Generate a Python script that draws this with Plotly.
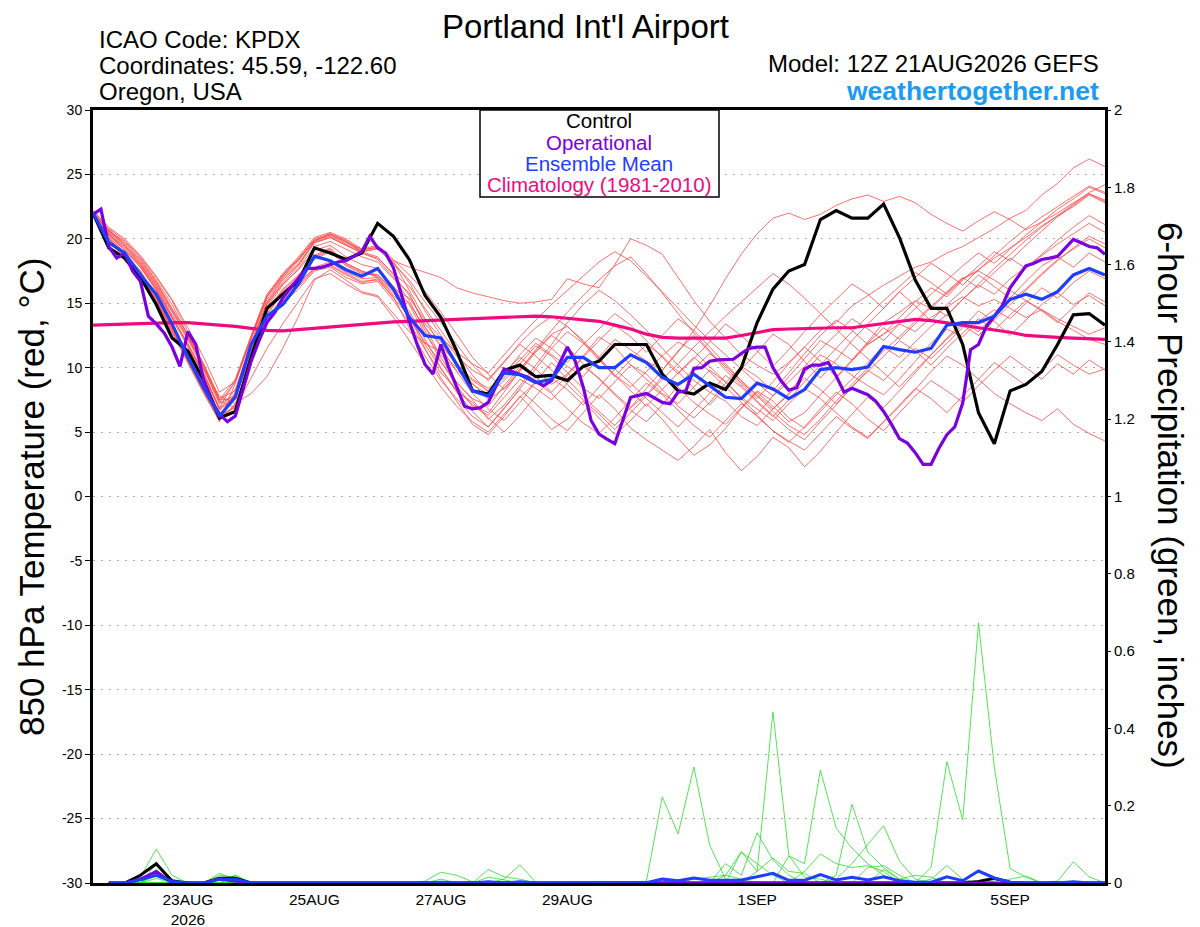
import pandas as pd
import plotly.graph_objects as go

# ---- data -------------------------------------------------------------
start = "2026-08-21 12:00"
times = pd.date_range(start, periods=65, freq="6h")      # GEFS members
op_times = pd.date_range(start, periods=129, freq="3h")  # operational run

tick_dates = ["2026-08-23", "2026-08-25", "2026-08-27", "2026-08-29",
              "2026-09-01", "2026-09-03", "2026-09-05"]
tick_labels = ["23AUG<br>2026", "25AUG", "27AUG", "29AUG", "1SEP", "3SEP", "5SEP"]
temp_ticks = [-30, -25, -20, -15, -10, -5, 0, 5, 10, 15, 20, 25, 30]
temp_labels = ["-30", "-25", "-20", "-15", "-10", "-5", "0", "5", "10", "15", "20", "25", "30"]
precip_ticks = [0, 0.2, 0.4, 0.6, 0.8, 1, 1.2, 1.4, 1.6, 1.8, 2]
precip_labels = ["0", "0.2", "0.4", "0.6", "0.8", "1", "1.2", "1.4", "1.6", "1.8", "2"]

# 850 hPa temperature, deg C
control = [22.0, 19.3, 18.5, 17.0, 14.9, 12.3, 11.3, 9.0, 6.1, 6.6, 10.8, 14.6, 15.7,
           16.7, 19.3, 18.9, 18.4, 18.9, 21.2, 20.2, 18.4, 15.6, 13.9, 11.3, 8.2, 7.95,
           9.8, 10.2, 9.3, 9.4, 9.0, 10.1, 10.5, 11.8, 11.8, 11.8, 9.5, 8.2, 7.95, 8.8,
           8.3, 10.0, 13.5, 16.1, 17.5, 18.0, 21.5, 22.2, 21.6, 21.6, 22.7, 20.1, 16.8,
           14.6, 14.6, 11.8, 6.5, 4.1, 8.2, 8.7, 9.7, 11.8, 14.1, 14.2, 13.3]
ens_mean = [22.0, 19.7, 18.9, 17.2, 15.7, 13.4, 10.8, 8.45, 6.25, 7.7, 11.8, 14.0, 14.9,
            16.5, 18.65, 18.3, 17.6, 17.1, 17.7, 16.1, 13.9, 12.5, 12.3, 10.3, 8.2, 7.8,
            9.6, 9.45, 8.85, 9.1, 10.8, 10.8, 10.0, 10.0, 11.0, 10.4, 9.25, 8.7, 9.5, 8.6,
            7.7, 7.6, 8.8, 8.35, 7.6, 8.3, 9.85, 10.0, 9.85, 10.05, 11.65, 11.4, 11.2,
            11.5, 13.3, 13.5, 13.5, 14.0, 15.3, 15.7, 15.3, 15.9, 17.2, 17.7, 17.2]
climatology = [13.3, 13.35, 13.4, 13.45, 13.5, 13.5, 13.5, 13.4, 13.35, 13.2, 13.05, 12.9,
               12.85, 12.95, 13.05, 13.15, 13.3, 13.4, 13.5, 13.55, 13.6, 13.65, 13.7, 13.75,
               13.8, 13.85, 13.9, 13.95, 14.0, 13.95, 13.85, 13.75, 13.6, 13.3, 13.0, 12.6,
               12.35, 12.3, 12.3, 12.3, 12.3, 12.5, 12.75, 12.95, 13.0, 13.05, 13.05, 13.1,
               13.1, 13.25, 13.4, 13.6, 13.75, 13.65, 13.5, 13.3, 13.1, 12.95, 12.75, 12.5,
               12.4, 12.35, 12.3, 12.25, 12.2]
operational = [21.9, 22.3, 19.4, 18.5, 18.9, 17.5, 16.7, 14.0, 13.4, 12.7, 11.6, 10.1, 12.8,
               11.8, 9.0, 7.4, 6.4, 5.8, 6.25, 8.45, 10.5, 12.1, 13.5, 14.3, 15.4, 16.2, 17.0,
               17.7, 17.7, 17.8, 18.0, 18.2, 18.3, 18.65, 19.0, 20.2, 19.3, 18.9, 17.75, 15.7,
               13.6, 11.8, 10.25, 9.5, 11.8, 10.0, 8.45, 7.0, 6.8, 6.9, 7.3, 8.6, 9.9, 9.7, 9.5,
               9.25, 8.9, 8.6, 9.0, 10.3, 11.6, 10.5, 8.5, 5.9, 4.85, 4.45, 4.1, 5.9, 7.7, 7.85,
               8.0, 7.65, 7.3, 7.2, 8.1, 8.2, 9.95, 10.0, 10.5, 10.6, 10.65, 10.65, 11.1, 11.5,
               11.6, 11.6, 10.0, 9.0, 8.25, 8.45, 9.9, 10.2, 10.2, 10.4, 9.35, 8.1, 8.4, 8.15,
               7.9, 7.4, 6.6, 5.6, 4.5, 4.15, 3.4, 2.5, 2.5, 3.75, 4.8, 5.4, 7.25, 11.4, 11.8,
               13.2, 14.0, 14.8, 16.2, 17.1, 17.9, 18.1, 18.4, 18.5, 18.65, 19.3, 19.95, 19.7,
               19.4, 19.3, 18.8]

m01 = [21.8, 20.4, 19.2, 17.9, 16.1, 13.9, 11.9, 9.6, 6.9, 9.0, 12.4, 15.6, 17.2, 18.5, 20.0, 20.4, 19.9, 19.1, 19.4, 18.3,
       17.8, 17.4, 17.0, 16.2, 15.8, 15.5, 15.2, 15.0, 15.1, 15.3, 16.9, 16.5, 16.2, 18.0, 20.0, 19.5, 18.8, 17.0, 15.2, 13.6,
       12.3, 11.0, 10.2, 9.5, 10.4, 11.6, 12.9, 13.5, 14.8, 15.6, 16.4, 17.1, 17.8, 18.2, 18.9, 19.4, 20.1, 20.8, 21.6, 22.2,
       23.4, 24.3, 25.5, 26.2, 25.6]
m02 = [22.1, 19.9, 18.6, 17.2, 15.2, 13.0, 10.8, 8.4, 6.0, 7.0, 10.6, 13.8, 15.2, 16.3, 17.6, 17.9, 17.2, 16.6, 16.9, 15.4,
       14.0, 11.5, 9.2, 7.4, 5.6, 4.8, 6.2, 7.8, 6.5, 5.2, 6.0, 7.4, 6.1, 4.8, 5.9, 7.2, 6.0, 4.5, 3.2, 4.0,
       5.3, 6.8, 8.1, 7.0, 5.8, 6.5, 7.9, 9.2, 10.5, 11.8, 12.6, 13.4, 12.8, 13.9, 14.7, 15.5, 14.8, 15.3, 14.6, 13.9,
       14.5, 13.8, 13.2, 12.6, 13.1]
m03 = [22.0, 20.6, 19.6, 18.3, 16.6, 14.5, 12.6, 10.3, 7.6, 8.2, 11.8, 15.0, 16.8, 18.0, 19.8, 20.2, 19.6, 19.0, 18.6, 17.2,
       15.6, 13.4, 12.0, 10.1, 9.0, 8.2, 9.6, 10.8, 9.9, 8.7, 9.5, 10.9, 12.4, 11.6, 10.2, 9.1, 8.0, 7.2, 8.5, 9.8,
       8.9, 7.6, 6.4, 7.8, 9.3, 10.7, 12.1, 11.4, 10.6, 12.0, 13.5, 14.3, 15.2, 14.6, 15.8, 16.9, 17.6, 18.5, 19.3, 20.1,
       21.0, 21.8, 22.5, 23.4, 22.8]
m04 = [21.9, 20.1, 18.9, 17.4, 15.5, 13.2, 10.4, 8.0, 5.9, 7.8, 11.2, 14.4, 16.0, 17.1, 18.6, 19.2, 18.0, 17.4, 17.1, 15.9,
       13.8, 12.0, 10.4, 8.9, 7.5, 6.0, 7.1, 8.6, 10.2, 11.8, 13.5, 14.9, 16.0, 15.2, 14.1, 12.9, 11.5, 10.2, 9.0, 8.1,
       7.4, 6.2, 5.5, 6.8, 8.0, 9.6, 11.0, 10.3, 9.4, 8.6, 7.9, 9.1, 10.5, 11.9, 13.0, 12.4, 13.6, 14.5, 13.8, 15.0,
       16.2, 15.4, 16.6, 17.5, 16.9]
m05 = [22.2, 20.8, 19.9, 18.6, 17.0, 15.2, 12.8, 9.8, 7.8, 7.2, 8.0, 9.3, 11.5, 14.0, 16.8, 17.6, 16.8, 15.9, 15.6, 14.2,
       12.8, 11.9, 11.2, 10.0, 8.8, 7.5, 8.4, 9.9, 11.3, 12.6, 13.2, 12.1, 10.8, 9.4, 8.5, 9.7, 10.9, 12.0, 11.3, 10.1,
       8.9, 7.7, 6.8, 5.9, 7.2, 8.4, 7.6, 6.5, 5.4, 4.6, 5.8, 7.0, 8.3, 9.7, 10.9, 10.2, 9.1, 8.0, 7.2, 6.5,
       5.9, 6.8, 5.6, 4.9, 4.3]
m06 = [21.7, 20.3, 19.4, 18.0, 16.3, 14.1, 12.2, 9.9, 7.2, 7.9, 11.6, 14.9, 16.5, 17.6, 19.1, 19.5, 18.6, 18.0, 17.7, 16.3,
       15.0, 13.1, 11.7, 10.3, 9.1, 8.4, 9.2, 10.6, 11.9, 11.0, 10.1, 9.3, 10.8, 12.2, 11.4, 10.5, 9.8, 11.2, 12.9, 14.8,
       16.9, 18.8, 20.4, 21.6, 22.0, 21.5, 21.9, 22.6, 23.1, 23.4, 22.9, 23.3, 22.8, 21.9, 21.2, 20.6, 21.4, 22.1, 21.5, 20.7,
       21.3, 22.0, 22.8, 23.5, 22.9]
m07 = [22.0, 20.0, 18.7, 17.3, 15.3, 12.9, 10.6, 8.2, 6.1, 7.1, 10.8, 13.9, 15.4, 16.5, 17.8, 18.2, 17.4, 16.9, 17.0, 15.6,
       14.4, 12.2, 10.0, 8.1, 6.6, 5.4, 6.9, 8.3, 7.2, 6.0, 5.1, 6.5, 7.9, 6.8, 5.3, 4.4, 3.6, 2.8, 3.9, 5.2,
       3.4, 2.0, 3.1, 4.6, 3.8, 2.3, 3.5, 5.0, 6.4, 7.7, 6.9, 8.2, 9.6, 11.0, 12.3, 13.5, 12.8, 14.0, 15.2, 16.1,
       17.3, 18.4, 19.2, 20.0, 19.3]
m08 = [22.1, 20.5, 19.5, 18.1, 16.4, 14.3, 12.3, 10.0, 7.3, 8.9, 12.2, 15.3, 17.0, 18.3, 19.9, 20.3, 19.8, 19.0, 19.2, 18.1,
       16.8, 15.1, 13.5, 11.8, 10.2, 9.0, 10.4, 11.9, 13.1, 14.0, 13.2, 12.0, 10.7, 9.3, 10.6, 11.8, 10.9, 9.7, 8.4, 7.1,
       8.5, 9.9, 11.2, 12.6, 11.8, 10.5, 9.2, 10.6, 12.1, 13.4, 14.6, 15.9, 14.8, 13.6, 14.9, 16.0, 17.2, 16.3, 15.4, 16.7,
       17.9, 18.6, 17.8, 18.9, 18.2]
m09 = [21.8, 20.0, 18.8, 17.5, 15.6, 13.3, 10.7, 8.3, 6.0, 8.1, 11.7, 14.9, 16.6, 17.9, 19.7, 20.1, 19.5, 18.9, 18.4, 17.0,
       15.2, 12.8, 10.5, 8.6, 7.0, 6.3, 7.7, 9.1, 8.4, 7.5, 8.8, 10.1, 9.2, 8.0, 6.9, 7.9, 9.3, 8.5, 7.3, 6.4,
       5.6, 6.9, 8.2, 7.4, 6.1, 5.3, 6.6, 7.9, 9.1, 10.4, 11.6, 10.8, 12.0, 13.2, 14.1, 15.3, 16.4, 15.7, 16.9, 17.8,
       18.7, 19.6, 20.4, 21.2, 20.5]
m10 = [21.9, 20.3, 19.1, 17.8, 16.0, 13.8, 11.7, 9.4, 6.7, 7.7, 11.0, 14.2, 15.9, 16.9, 18.4, 19.0, 17.9, 17.3, 17.2, 16.0,
       14.9, 12.6, 11.0, 9.8, 8.7, 7.9, 9.0, 10.3, 11.7, 10.9, 9.6, 8.4, 7.6, 8.9, 10.2, 9.5, 8.3, 7.0, 6.1, 7.3,
       8.8, 10.1, 9.3, 8.2, 9.6, 11.1, 12.5, 13.7, 12.9, 11.8, 12.6, 13.9, 15.1, 16.2, 15.5, 16.8, 17.9, 19.0, 18.3, 19.5,
       20.6, 21.7, 22.6, 23.5, 23.0]
m11 = [22.0, 19.8, 18.5, 17.0, 15.0, 12.7, 10.5, 8.1, 5.8, 8.8, 12.3, 15.5, 17.1, 18.4, 19.9, 20.3, 19.7, 19.2, 19.3, 18.2,
       16.0, 13.9, 11.6, 9.7, 8.0, 6.8, 5.9, 7.3, 8.9, 10.4, 9.1, 7.8, 6.6, 5.5, 6.9, 8.4, 9.8, 11.3, 12.5, 11.2,
       9.8, 8.6, 7.4, 6.3, 5.2, 4.4, 5.8, 7.1, 8.5, 9.8, 9.0, 10.3, 11.5, 10.7, 11.9, 13.1, 14.4, 13.6, 12.5, 13.7,
       14.9, 15.8, 14.9, 15.6, 14.8]
m12 = [22.1, 20.7, 19.7, 18.4, 16.7, 14.6, 12.5, 10.1, 7.4, 6.9, 10.4, 13.6, 15.0, 16.1, 17.5, 17.8, 17.0, 16.5, 16.7, 15.2,
       13.5, 11.4, 9.6, 8.3, 7.1, 6.5, 8.1, 9.8, 11.4, 12.9, 14.3, 15.6, 16.8, 17.9, 18.6, 17.3, 15.8, 14.2, 12.7, 11.3,
       10.0, 8.8, 7.6, 8.9, 10.3, 11.6, 10.5, 9.3, 10.6, 11.9, 13.1, 12.2, 13.4, 14.7, 15.9, 17.0, 16.2, 17.4, 18.5, 17.7,
       18.8, 19.9, 20.9, 21.8, 21.1]
m13 = [21.8, 20.0, 18.8, 17.3, 15.4, 13.1, 10.9, 8.6, 6.3, 6.9, 9.2, 11.5, 13.4, 15.2, 16.9, 17.3, 16.5, 15.8, 15.5, 13.9,
       12.1, 10.2, 8.5, 7.0, 5.8, 5.0, 6.4, 7.7, 8.9, 8.0, 6.8, 5.7, 4.9, 6.1, 7.5, 8.8, 7.9, 6.7, 5.5, 4.6,
       5.9, 7.2, 6.3, 5.1, 4.2, 5.4, 6.8, 8.1, 7.2, 6.0, 5.1, 6.5, 7.8, 9.0, 8.2, 7.3, 8.6, 9.8, 10.9, 10.0,
       9.1, 10.3, 9.5, 10.6, 9.8]
m14 = [21.9, 20.5, 19.3, 18.0, 16.2, 14.0, 11.8, 9.5, 6.8, 8.3, 11.9, 15.1, 16.9, 18.1, 19.7, 20.1, 19.5, 18.9, 18.5, 17.3,
       16.3, 14.6, 12.9, 11.1, 9.4, 8.1, 9.5, 11.0, 12.3, 11.5, 10.4, 11.8, 13.0, 14.2, 13.3, 12.1, 10.8, 9.5, 10.7, 12.0,
       13.4, 12.5, 11.3, 10.1, 11.4, 12.8, 14.1, 15.3, 16.5, 15.7, 14.6, 15.9, 17.0, 18.1, 17.3, 16.4, 17.6, 18.7, 19.8, 20.8,
       21.7, 22.5, 23.3, 24.1, 23.6]
m15 = [22.0, 20.6, 19.8, 18.5, 16.8, 14.9, 12.5, 10.2, 7.5, 7.6, 11.0, 14.1, 15.8, 17.0, 18.5, 19.1, 18.1, 17.5, 17.0, 15.8,
       14.2, 11.8, 9.9, 8.2, 7.3, 6.1, 5.0, 6.3, 7.8, 9.2, 8.3, 7.1, 8.5, 9.9, 8.8, 7.6, 6.5, 5.4, 6.7, 8.0,
       9.4, 8.5, 7.3, 6.2, 7.5, 8.9, 10.2, 11.5, 12.8, 14.0, 15.2, 16.3, 17.4, 16.6, 15.7, 16.9, 17.5, 16.8, 16.0, 15.2,
       14.5, 13.6, 12.9, 12.2, 11.8]
m16 = [22.1, 20.0, 18.7, 17.1, 15.1, 12.8, 10.6, 8.3, 6.2, 8.0, 11.5, 14.7, 16.4, 17.7, 19.4, 19.8, 19.2, 18.6, 18.2, 16.9,
       15.8, 13.2, 10.8, 8.8, 7.6, 7.0, 8.6, 10.1, 9.3, 8.1, 9.4, 10.8, 12.1, 13.3, 12.4, 11.2, 12.5, 13.8, 12.9, 11.6,
       10.3, 9.0, 7.9, 6.8, 7.9, 9.2, 8.3, 7.2, 8.5, 9.7, 10.9, 12.1, 11.3, 10.2, 11.5, 12.7, 13.8, 12.9, 14.1, 15.2,
       14.4, 13.5, 14.7, 15.8, 15.1]
m17 = [22.0, 20.7, 19.5, 18.2, 16.5, 14.4, 12.4, 10.2, 7.5, 9.1, 12.5, 15.7, 17.3, 18.6, 20.1, 20.5, 20.0, 19.2, 19.5, 18.4,
       17.2, 15.9, 14.3, 12.6, 10.8, 9.5, 8.3, 9.7, 11.2, 12.5, 11.6, 10.3, 9.1, 7.9, 6.7, 5.8, 7.1, 8.6, 9.9, 11.1,
       10.2, 8.9, 7.8, 6.6, 5.5, 4.8, 6.0, 7.4, 8.7, 10.0, 11.3, 12.4, 13.6, 14.8, 14.0, 15.3, 16.5, 17.7, 18.8, 19.9,
       20.9, 21.8, 22.7, 23.6, 24.2]
m18 = [21.9, 20.2, 18.9, 17.5, 15.4, 13.1, 10.5, 8.1, 5.9, 7.2, 10.7, 13.7, 15.3, 16.4, 17.7, 18.0, 17.3, 16.7, 16.8, 15.5,
       13.1, 10.9, 9.0, 7.6, 6.2, 5.4, 6.8, 8.4, 9.9, 11.5, 12.8, 11.9, 10.6, 9.4, 8.2, 7.0, 8.3, 9.6, 10.8, 9.7,
       8.5, 7.3, 6.2, 5.1, 4.3, 3.6, 4.9, 6.2, 5.3, 4.5, 5.8, 7.1, 8.4, 7.6, 6.5, 7.8, 9.1, 10.4, 9.5, 8.6,
       9.8, 11.0, 10.2, 9.5, 9.9]
m19 = [21.8, 20.4, 19.1, 17.8, 16.0, 13.9, 11.8, 9.5, 6.8, 7.8, 11.3, 14.5, 16.1, 17.2, 18.7, 19.3, 18.1, 17.5, 17.2, 16.1,
       15.4, 13.7, 12.3, 11.2, 10.3, 9.6, 11.0, 12.4, 13.7, 14.9, 16.0, 17.1, 18.2, 19.0, 18.3, 17.1, 15.9, 14.6, 13.3, 12.1,
       11.0, 9.9, 8.8, 7.8, 8.9, 10.1, 11.4, 12.6, 13.8, 13.0, 12.1, 13.4, 14.6, 15.7, 16.8, 17.9, 18.9, 18.1, 19.2, 20.3,
       21.3, 22.3, 23.1, 24.0, 23.5]
m20 = [22.2, 20.9, 20.0, 18.7, 17.1, 15.3, 13.1, 10.8, 8.1, 8.9, 12.3, 15.5, 17.2, 18.4, 19.8, 20.4, 19.8, 19.0, 19.3, 18.2,
       16.6, 14.4, 12.5, 10.9, 9.8, 9.1, 10.5, 11.8, 10.9, 9.8, 8.7, 7.5, 6.4, 5.2, 6.5, 7.8, 9.1, 10.3, 11.6, 12.8,
       14.0, 15.1, 16.2, 17.3, 16.5, 15.4, 14.2, 13.0, 11.8, 10.7, 9.6, 8.5, 9.8, 11.0, 12.2, 13.3, 12.5, 13.7, 14.9, 16.0,
       17.2, 18.3, 19.3, 20.2, 19.6]

# 6-hour precipitation, inches (no value at the analysis time)
p_control = [None, 0, 0, 0.02, 0.05, 0.005, 0, 0, 0.012, 0.012, 0, 0, 0, 0, 0, 0, 0, 0, 0, 0, 0, 0, 0, 0, 0,
             0, 0, 0, 0, 0, 0, 0, 0, 0, 0, 0, 0, 0, 0, 0, 0, 0, 0, 0, 0, 0, 0, 0, 0, 0,
             0, 0, 0, 0, 0, 0, 0.004, 0.012, 0.002, 0, 0, 0, 0, 0, 0]
p_operational = [None, 0, 0, 0.01, 0.03, 0, 0, 0, 0.01, 0.005, 0, 0, 0, 0, 0, 0, 0, 0, 0, 0, 0, 0, 0, 0, 0,
                 0, 0, 0, 0, 0, 0, 0, 0, 0, 0, 0, 0, 0, 0, 0, 0, 0, 0, 0, 0, 0, 0, 0, 0, 0,
                 0, 0, 0, 0, 0, 0, 0, 0, 0, 0, 0, 0, 0, 0, 0]
p_mean = [None, 0, 0, 0.008, 0.02, 0.004, 0, 0, 0.01, 0.01, 0, 0, 0, 0, 0, 0, 0, 0, 0, 0, 0, 0, 0.002, 0, 0,
          0.003, 0, 0.003, 0, 0, 0, 0, 0, 0, 0, 0.001, 0.01, 0.006, 0.013, 0.007, 0.007, 0.008, 0.016, 0.025, 0.007, 0.007, 0.022, 0.008, 0.015, 0.008,
          0.016, 0.006, 0.002, 0.002, 0.016, 0.006, 0.031, 0.013, 0.002, 0, 0, 0, 0.003, 0, 0]

g01 = [None, 0, 0, 0.015, 0.088, 0.02, 0, 0, 0.02, 0.015, 0, 0, 0, 0, 0, 0, 0, 0, 0, 0, 0, 0, 0, 0, 0,
       0, 0, 0, 0, 0, 0, 0, 0, 0, 0, 0.005, 0.223, 0.127, 0.3, 0.098, 0.01, 0, 0, 0, 0, 0, 0, 0, 0, 0,
       0, 0, 0, 0, 0, 0, 0, 0, 0, 0, 0, 0, 0, 0, 0]
g02 = [None, 0, 0, 0.02, 0.045, 0, 0, 0, 0.015, 0, 0, 0, 0, 0, 0, 0, 0, 0, 0, 0, 0, 0, 0, 0, 0,
       0, 0, 0, 0, 0, 0, 0, 0, 0, 0, 0, 0, 0, 0, 0, 0.05, 0.02, 0.13, 0.06, 0.02, 0, 0, 0, 0, 0,
       0, 0, 0, 0, 0, 0, 0, 0, 0, 0, 0, 0, 0, 0, 0]
g03 = [None, 0, 0, 0, 0.03, 0.005, 0, 0, 0, 0.02, 0, 0, 0, 0, 0, 0, 0, 0, 0, 0, 0, 0, 0, 0, 0,
       0, 0, 0, 0, 0, 0, 0, 0, 0, 0, 0, 0, 0, 0, 0, 0, 0.081, 0.03, 0.443, 0.072, 0.015, 0.01, 0, 0, 0,
       0, 0, 0, 0, 0, 0, 0, 0, 0, 0, 0, 0, 0, 0, 0]
g04 = [None, 0, 0, 0.01, 0.025, 0, 0, 0, 0.025, 0.01, 0, 0, 0, 0, 0, 0, 0, 0, 0, 0, 0, 0, 0, 0, 0,
       0, 0, 0, 0, 0, 0, 0, 0, 0, 0, 0, 0, 0, 0, 0, 0, 0, 0, 0, 0.07, 0.05, 0.292, 0.142, 0.09, 0.05,
       0.02, 0, 0, 0, 0, 0, 0, 0, 0, 0, 0, 0, 0, 0, 0]
g05 = [None, 0, 0, 0, 0.012, 0, 0, 0, 0.01, 0, 0, 0, 0, 0, 0, 0, 0, 0, 0, 0, 0, 0, 0, 0, 0,
       0, 0, 0, 0, 0, 0, 0, 0, 0, 0, 0, 0, 0, 0, 0, 0, 0, 0, 0, 0, 0, 0, 0.02, 0.204, 0.08,
       0.04, 0.01, 0, 0, 0, 0, 0, 0, 0, 0, 0, 0, 0, 0, 0]
g06 = [None, 0, 0, 0, 0.035, 0, 0, 0, 0, 0.02, 0, 0, 0, 0, 0, 0, 0, 0, 0, 0, 0, 0, 0, 0, 0,
       0, 0, 0, 0, 0, 0, 0, 0, 0, 0, 0, 0, 0, 0, 0, 0, 0, 0, 0, 0, 0, 0, 0.01, 0.05, 0.1,
       0.148, 0.057, 0.01, 0, 0, 0, 0, 0, 0, 0, 0, 0, 0, 0, 0]
g07 = [None, 0, 0, 0, 0, 0, 0, 0, 0, 0, 0, 0, 0, 0, 0, 0, 0, 0, 0, 0, 0, 0, 0, 0, 0,
       0, 0, 0, 0, 0, 0, 0, 0, 0, 0, 0, 0, 0, 0, 0, 0, 0, 0, 0, 0, 0, 0, 0, 0, 0,
       0, 0, 0, 0.04, 0.314, 0.163, 0.673, 0.3, 0.037, 0.015, 0, 0, 0, 0, 0]
g08 = [None, 0, 0, 0, 0.02, 0, 0, 0, 0, 0, 0, 0, 0, 0, 0, 0, 0, 0, 0, 0, 0, 0, 0, 0, 0,
       0, 0, 0, 0, 0, 0, 0, 0, 0, 0, 0, 0, 0, 0, 0, 0, 0, 0, 0, 0, 0, 0, 0, 0, 0,
       0, 0, 0, 0.01, 0.045, 0.01, 0, 0, 0, 0, 0, 0, 0, 0, 0]
g09 = [None, 0, 0, 0, 0, 0, 0, 0, 0, 0, 0, 0, 0, 0, 0, 0, 0, 0, 0, 0, 0, 0, 0, 0, 0,
       0, 0, 0, 0, 0, 0, 0, 0, 0, 0, 0, 0, 0, 0, 0, 0, 0, 0, 0, 0, 0, 0, 0, 0, 0,
       0, 0, 0, 0, 0, 0, 0, 0, 0, 0, 0, 0.005, 0.055, 0.016, 0]
g10 = [None, 0, 0, 0, 0.05, 0.01, 0, 0, 0, 0, 0, 0, 0, 0, 0, 0, 0, 0, 0, 0, 0, 0, 0, 0, 0,
       0, 0, 0, 0, 0, 0, 0, 0, 0, 0, 0, 0, 0, 0, 0, 0.02, 0.08, 0.05, 0.02, 0, 0, 0, 0, 0, 0,
       0, 0, 0, 0, 0, 0, 0, 0, 0, 0, 0, 0, 0, 0, 0]
g11 = [None, 0, 0, 0, 0, 0, 0, 0, 0, 0, 0, 0, 0, 0, 0, 0, 0, 0, 0, 0, 0, 0, 0, 0, 0,
       0, 0, 0, 0, 0, 0, 0, 0, 0, 0, 0, 0, 0, 0, 0, 0, 0, 0.03, 0.065, 0.03, 0.025, 0, 0, 0, 0,
       0, 0, 0, 0, 0, 0, 0, 0, 0, 0, 0, 0, 0, 0, 0]
g12 = [None, 0, 0, 0, 0, 0, 0, 0, 0, 0, 0, 0, 0, 0, 0, 0, 0, 0, 0, 0, 0, 0, 0, 0, 0,
       0, 0, 0, 0, 0, 0, 0, 0, 0, 0, 0, 0, 0, 0, 0, 0, 0, 0, 0, 0, 0.03, 0.075, 0.05, 0.04, 0.045,
       0.03, 0, 0, 0, 0, 0, 0, 0, 0, 0, 0, 0, 0, 0, 0]
g13 = [None, 0, 0, 0, 0, 0, 0, 0, 0, 0, 0, 0, 0, 0, 0, 0, 0, 0, 0, 0, 0, 0, 0, 0, 0,
       0, 0, 0, 0, 0, 0, 0, 0, 0, 0, 0, 0, 0, 0, 0, 0, 0, 0, 0, 0, 0, 0, 0, 0, 0.04,
       0.045, 0.02, 0, 0, 0, 0, 0, 0, 0, 0, 0, 0, 0, 0, 0]
g14 = [None, 0, 0, 0, 0, 0, 0, 0, 0, 0, 0, 0, 0, 0, 0, 0, 0, 0, 0, 0, 0, 0, 0, 0, 0,
       0, 0, 0, 0, 0, 0, 0, 0, 0, 0, 0, 0, 0, 0, 0, 0, 0, 0, 0, 0, 0, 0, 0, 0, 0,
       0.035, 0.01, 0.02, 0.015, 0, 0, 0, 0, 0, 0, 0, 0, 0, 0, 0]
g15 = [None, 0, 0, 0, 0, 0, 0, 0, 0, 0, 0, 0, 0, 0, 0, 0, 0, 0, 0, 0, 0, 0.005, 0.028, 0.02, 0.003,
       0, 0, 0, 0, 0, 0, 0, 0, 0, 0, 0, 0, 0, 0, 0, 0, 0, 0, 0, 0, 0, 0, 0, 0, 0,
       0, 0, 0, 0, 0, 0, 0, 0, 0, 0, 0, 0, 0, 0, 0]
g16 = [None, 0, 0, 0, 0, 0, 0, 0, 0, 0, 0, 0, 0, 0, 0, 0, 0, 0, 0, 0, 0, 0, 0, 0, 0,
       0.035, 0.016, 0.01, 0, 0, 0, 0, 0, 0, 0, 0, 0, 0, 0, 0, 0, 0, 0, 0, 0, 0, 0, 0, 0, 0,
       0, 0, 0, 0, 0, 0, 0, 0, 0, 0, 0, 0, 0, 0, 0]
g17 = [None, 0, 0, 0, 0, 0, 0, 0, 0, 0, 0, 0, 0, 0, 0, 0, 0, 0, 0, 0, 0, 0, 0, 0, 0,
       0, 0.01, 0.047, 0.002, 0, 0, 0, 0, 0, 0, 0, 0, 0, 0, 0, 0, 0, 0, 0, 0, 0, 0, 0, 0, 0,
       0, 0, 0, 0, 0, 0, 0, 0, 0, 0, 0, 0, 0, 0, 0]
g18 = [None, 0, 0, 0, 0, 0, 0, 0, 0, 0, 0, 0, 0, 0, 0, 0, 0, 0, 0, 0, 0, 0, 0.01, 0, 0,
       0.015, 0.008, 0, 0, 0, 0, 0, 0, 0, 0, 0, 0, 0, 0, 0, 0, 0, 0, 0, 0, 0, 0, 0, 0, 0,
       0, 0, 0, 0, 0, 0, 0, 0, 0, 0, 0, 0, 0, 0, 0]
g19 = [None, 0, 0, 0, 0, 0, 0, 0, 0, 0, 0, 0, 0, 0, 0, 0, 0, 0, 0, 0, 0, 0, 0, 0, 0,
       0, 0, 0, 0, 0, 0, 0, 0, 0, 0, 0, 0, 0, 0.01, 0.015, 0.02, 0.01, 0, 0, 0, 0, 0, 0, 0, 0,
       0, 0, 0, 0, 0, 0, 0, 0, 0, 0, 0, 0, 0, 0, 0]
g20 = [None, 0, 0, 0, 0, 0, 0, 0, 0, 0, 0, 0, 0, 0, 0, 0, 0, 0, 0, 0, 0, 0, 0, 0, 0,
       0, 0, 0, 0, 0, 0, 0, 0, 0, 0, 0, 0, 0, 0, 0, 0, 0, 0, 0, 0, 0, 0, 0, 0, 0,
       0, 0, 0, 0, 0, 0, 0, 0.005, 0.01, 0.018, 0, 0, 0, 0, 0]

temp_members = [m01, m02, m03, m04, m05, m06, m07, m08, m09, m10,
                m11, m12, m13, m14, m15, m16, m17, m18, m19, m20]
precip_members = [g01, g02, g03, g04, g05, g06, g07, g08, g09, g10,
                  g11, g12, g13, g14, g15, g16, g17, g18, g19, g20]

# ---- figure -----------------------------------------------------------
FONT = "Liberation Sans, Arial, Helvetica, sans-serif"
RED = "#ff4a4a"
GREEN = "#2bdc2b"
PURPLE = "#7a00e0"
BLUE = "#1f3dff"
MAGENTA = "#ee0a80"

fig = go.Figure()

for m in temp_members:
    fig.add_trace(go.Scatter(x=times, y=m, mode="lines",
                             line=dict(color=RED, width=0.8), hoverinfo="skip"))
for g in precip_members:
    fig.add_trace(go.Scatter(x=times, y=g, mode="lines", yaxis="y2",
                             line=dict(color=GREEN, width=0.8), hoverinfo="skip"))

fig.add_trace(go.Scatter(x=times, y=climatology, mode="lines", name="Climatology",
                         line=dict(color=MAGENTA, width=3.2)))
fig.add_trace(go.Scatter(x=times, y=control, mode="lines", name="Control",
                         line=dict(color="black", width=3.2)))
fig.add_trace(go.Scatter(x=op_times, y=operational, mode="lines", name="Operational",
                         line=dict(color=PURPLE, width=3.2)))
fig.add_trace(go.Scatter(x=times, y=ens_mean, mode="lines", name="Ensemble Mean",
                         line=dict(color=BLUE, width=3.2)))

fig.add_trace(go.Scatter(x=times, y=p_control, mode="lines", yaxis="y2",
                         line=dict(color="black", width=3)))
fig.add_trace(go.Scatter(x=times, y=p_operational, mode="lines", yaxis="y2",
                         line=dict(color=PURPLE, width=3)))
fig.add_trace(go.Scatter(x=times, y=p_mean, mode="lines", yaxis="y2",
                         line=dict(color=BLUE, width=3)))

# the page body adds an 8px offset; plot area should sit at x 93-1105, y 110-883
PAGE = 8
L, R, T, B = 93, 1105, 110, 883


def paper_x(px):
    return (px - L) / (R - L)


def paper_y(py):
    return (B - py) / (B - T)


def note(text, px, py, size, anchor="center", color="black", angle=0):
    fig.add_annotation(text=text, x=paper_x(px), y=paper_y(py), xref="paper", yref="paper",
                       xanchor=anchor, yanchor="middle", showarrow=False, textangle=angle,
                       font=dict(family=FONT, size=size, color=color))


note("Portland Int'l Airport", 585, 27, 33)
note("ICAO Code: KPDX", 97, 40, 24, anchor="left")
note("Coordinates: 45.59, -122.60", 97, 66, 24, anchor="left")
note("Oregon, USA", 97, 92, 24, anchor="left")
note("Model: 12Z 21AUG2026 GEFS", 1101, 63, 24, anchor="right")
note("<b>weathertogether.net</b>", 1101, 91, 26.5, anchor="right", color="#1a9cf2")

note("850 hPa Temperature (red, °C)", 31, 497, 35, angle=-90)
note("6-hour Precipitation (green, inches)", 1171, 495, 35, angle=90)

# legend box
fig.add_shape(type="rect", xref="paper", yref="paper",
              x0=paper_x(480), x1=paper_x(719), y0=paper_y(197), y1=paper_y(110),
              line=dict(color="black", width=1.5), fillcolor="white", layer="above")
note("Control", 599, 121, 20.5)
note("Operational", 599, 142, 20.5, color=PURPLE)
note("Ensemble Mean", 599, 163, 20.5, color=BLUE)
note("Climatology (1981-2010)", 599, 185, 20.5, color=MAGENTA)

fig.update_layout(
    width=1200, height=927,
    margin=dict(l=L - PAGE, r=1200 - R + PAGE, t=T - PAGE, b=927 - B + PAGE, autoexpand=False),
    plot_bgcolor="white", paper_bgcolor="white",
    showlegend=False,
    font=dict(family=FONT, color="black"),
    xaxis=dict(
        type="date", range=[times[0], times[-1]],
        tickvals=tick_dates, ticktext=tick_labels,
        ticks="", tickfont=dict(size=15.5), automargin=False,
        showgrid=False, zeroline=False,
        showline=True, linecolor="black", linewidth=3, mirror=True,
    ),
    yaxis=dict(
        range=[-30, 30], tickvals=temp_ticks, ticktext=temp_labels,
        ticks="outside", ticklen=5, tickcolor="black",
        tickfont=dict(size=14), automargin=False,
        showgrid=True, gridcolor="#aaaaaa", gridwidth=1, griddash="2px,6px",
        zeroline=False,
        showline=True, linecolor="black", linewidth=3, mirror=True,
    ),
    yaxis2=dict(
        overlaying="y", side="right", range=[0, 2],
        tickvals=precip_ticks, ticktext=precip_labels,
        ticks="outside", ticklen=5, tickcolor="black",
        tickfont=dict(size=15), automargin=False,
        showgrid=False, zeroline=False, showline=False,
    ),
)

fig.write_html("out.html")
